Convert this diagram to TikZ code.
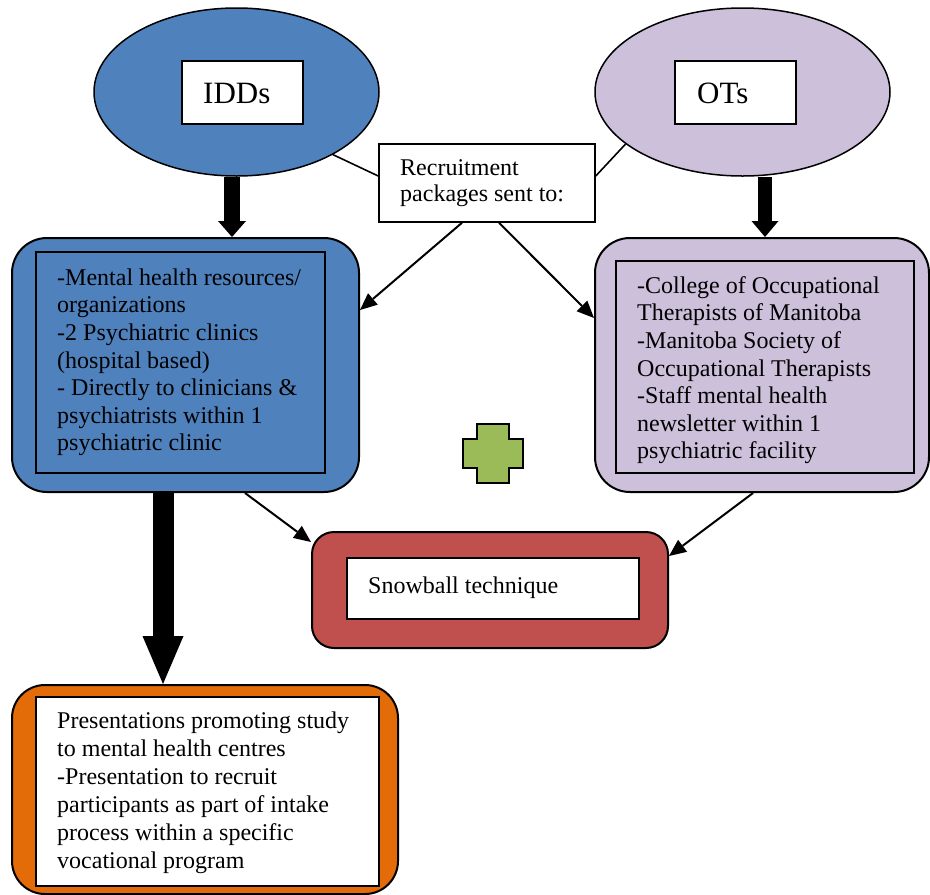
\documentclass[tikz,border=0pt]{standalone}
\usepackage{fontspec}
\setmainfont{Liberation Serif}
\usetikzlibrary{shapes.geometric,arrows.meta,calc}
\definecolor{iddblue}{HTML}{4F81BD}
\definecolor{otlav}{HTML}{CCC0DA}
\definecolor{snowred}{HTML}{C0504D}
\definecolor{presorange}{HTML}{E36C09}
\definecolor{crossgreen}{HTML}{9BBB59}
\tikzset{
  oval/.style={ellipse, draw=black, line width=1.5pt, inner sep=0pt},
  labelbox/.style={rectangle, draw=black, line width=1.5pt, fill=white, inner sep=0pt},
  roundbox/.style={rectangle, rounded corners=#1, draw=black, line width=2pt, inner sep=0pt},
  innerbox/.style={rectangle, draw=black, line width=2pt, inner sep=0pt},
  bodytext/.style={inner sep=0pt, anchor=north west, align=left, font=\fontsize{24}{27.6}\selectfont},
  bigtext/.style={inner sep=0pt, anchor=base west, font=\fontsize{31}{36}\selectfont},
  thinarrow/.style={line width=2pt, -{Triangle[length=17pt,width=15pt,line width=0pt]}},
  thinline/.style={line width=1.6pt},
}
\begin{document}
\begin{tikzpicture}[x=1pt,y=-1pt]
\useasboundingbox (0,0) rectangle (930,895);

% ellipses
\node[oval, fill=iddblue, minimum width=285, minimum height=168] (idd) at (236.5,92) {};
\node[oval, fill=otlav, minimum width=295, minimum height=168] (ot) at (742.5,92) {};
\node[labelbox, minimum width=121, minimum height=63] (iddlbl) at (242.5,92.5) {};
\node[labelbox, minimum width=121, minimum height=63] (otlbl) at (735.5,92.5) {};
\node[bigtext] (iddtxt) at (203,103) {IDDs};
\node[bigtext] (ottxt) at (697,103) {OTs};

% recruitment box
\node[labelbox, minimum width=216, minimum height=78] (rec) at (487,183) {};
\node[bodytext, font=\fontsize{24}{26.7}\selectfont] (rectxt) at (400,156.3) {\strut Recruitment\\packages sent to:};

% big rounded boxes
\node[roundbox=35pt, fill=iddblue, minimum width=347, minimum height=254] (iddbox) at (185.5,365) {};
\node[innerbox, minimum width=289, minimum height=221] (iddin) at (180.5,362.5) {};
\node[bodytext] (iddbody) at (57,265.7) {\strut -Mental health resources/\\organizations\\-2 Psychiatric clinics\\(hospital based)\\- Directly to clinicians \&\\psychiatrists within 1\\psychiatric clinic};

\node[roundbox=35pt, fill=otlav, minimum width=334, minimum height=254] (otbox) at (762,365) {};
\node[innerbox, minimum width=298, minimum height=212] (otin) at (765,367) {};
\node[bodytext] (otbody) at (637,273.7) {\strut -College of Occupational\\Therapists of Manitoba\\-Manitoba Society of\\Occupational Therapists\\-Staff mental health\\newsletter within 1\\psychiatric facility};

% snowball
\node[roundbox=22pt, fill=snowred, minimum width=356, minimum height=116] (snow) at (490,590) {};
\node[innerbox, fill=white, minimum width=292, minimum height=61] (snowin) at (493,588.5) {};
\node[inner sep=0pt, anchor=base west, font=\fontsize{24}{27.6}\selectfont] (snowtxt) at (368,593) {Snowball technique};

% presentations
\node[roundbox=33pt, fill=presorange, minimum width=386, minimum height=209] (pres) at (205,789.5) {};
\node[innerbox, fill=white, minimum width=343, minimum height=189] (presin) at (207.5,791.5) {};
\node[bodytext, font=\fontsize{24}{28}\selectfont] (prestxt) at (57,708.7) {\strut Presentations promoting study\\to mental health centres\\-Presentation to recruit\\participants as part of intake\\process within a specific\\vocational program};

% green cross
\filldraw[fill=crossgreen, draw=black, line width=1.5pt]
  (477,424) -- (509,424) -- (509,439) -- (523,439) -- (523,468) -- (509,468)
  -- (509,483) -- (477,483) -- (477,468) -- (463,468) -- (463,439) -- (477,439) -- cycle;

% callout lines
\draw[thinline] (idd.-33.3) -- ([yshift=7pt]rec.west);
\draw[thinline] ([yshift=7pt]rec.east) -- (ot.204.6);

% thin arrows
\draw[thinarrow] ([xshift=-25pt]rec.south) -- ([yshift=55pt]iddbox.east);
\draw[thinarrow] ([xshift=12pt]rec.south) -- ([yshift=47pt]otbox.west);
\draw[thinarrow] ([xshift=59.5pt]iddbox.south) -- ([yshift=48pt]snow.west);
\draw[thinarrow] ([xshift=-9pt]otbox.south) -- ([yshift=34pt]snow.east);

% thick arrows
\draw[line width=16pt, -{Triangle[length=16pt,width=28pt,line width=0pt]}]
  ([xshift=-4.5pt]idd.south) -- ([xshift=-4.5pt]idd.south |- iddbox.north);
\draw[line width=14pt, -{Triangle[length=16pt,width=27pt,line width=0pt]}]
  ([xshift=3pt]otbox.north |- ot.south) -- ([xshift=3pt]otbox.north);
\draw[line width=21pt, -{Triangle[length=48pt,width=41pt,line width=0pt]}]
  ([xshift=-22.5pt]iddbox.south) -- ([xshift=-22.5pt]iddbox.south |- pres.north);
\end{tikzpicture}
\end{document}
